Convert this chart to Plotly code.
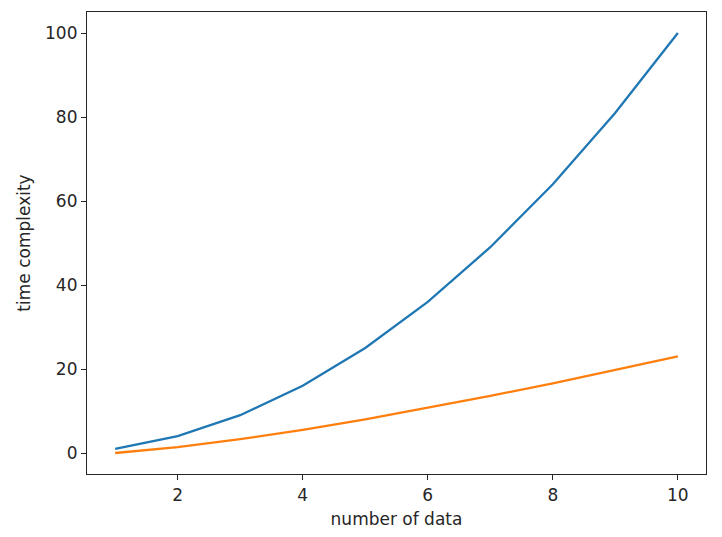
import plotly.graph_objs as go

# values
num_data = [1, 2, 3, 4, 5, 6, 7, 8, 9, 10]
quadratic = [1, 4, 9, 16, 25, 36, 49, 64, 81, 100]
n_log_n = [0, 1.4, 3.3, 5.5, 8.0, 10.8, 13.6, 16.6, 19.8, 23.0]
x_ticks = [2, 4, 6, 8, 10]
y_ticks = [0, 20, 40, 60, 80, 100]

font = dict(family='DejaVu Sans', size=17, color='#262626')

data = [
    go.Scatter(x=num_data, y=quadratic, mode='lines',
               line=dict(color='#1f77b4', width=2.3)),
    go.Scatter(x=num_data, y=n_log_n, mode='lines',
               line=dict(color='#ff7f0e', width=2.3)),
]

axis_style = dict(
    showgrid=False,
    zeroline=False,
    showline=True,
    linecolor='#262626',
    linewidth=1.2,
    mirror=True,
    ticks='outside',
    ticklen=5,
    tickwidth=1.2,
    tickcolor='#262626',
    tickfont=font,
)

# the page adds an 8px body margin, so the margins are shifted by it
layout = go.Layout(
    width=722,
    height=537,
    showlegend=False,
    plot_bgcolor='white',
    paper_bgcolor='white',
    font=font,
    margin=dict(l=79, r=24, t=4, b=71, autoexpand=False),
    xaxis=dict(
        title=dict(text='number of data', font=font, standoff=9),
        range=[0.55, 10.45],
        tickvals=x_ticks,
        **axis_style
    ),
    yaxis=dict(
        title=dict(text='time complexity', font=font, standoff=10),
        range=[-5, 105],
        tickvals=y_ticks,
        **axis_style
    ),
)

fig = go.Figure(data=data, layout=layout)
fig.write_html("out.html")
